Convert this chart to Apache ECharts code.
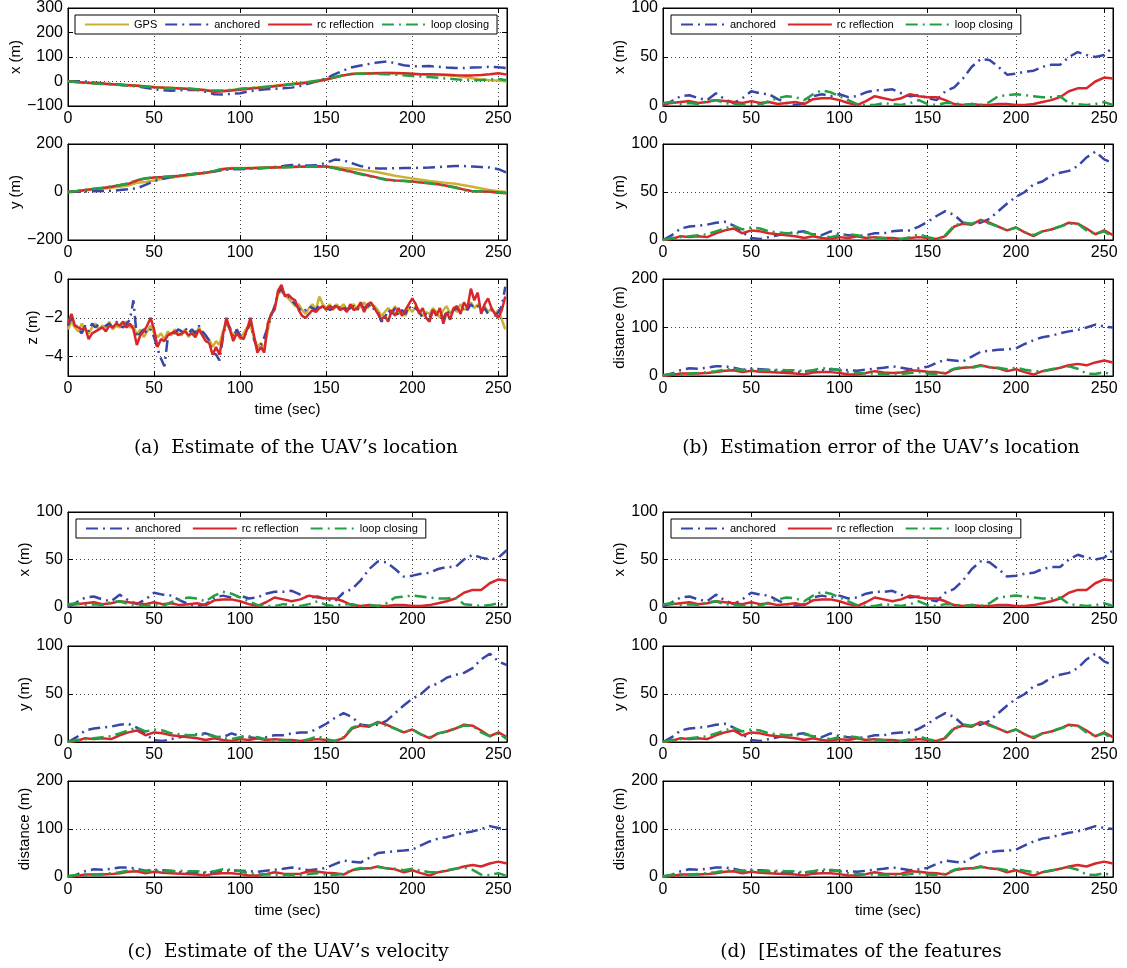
<!DOCTYPE html>
<html><head><meta charset="utf-8">
<script src="https://cdn.jsdelivr.net/npm/echarts@6/dist/echarts.min.js"></script>
<style>html,body{margin:0;padding:0;background:#fff}#c{width:1127px;height:968px}</style>
</head><body><div id="c"></div>
<script>
// ---------- DATA ----------
const T5 = [0,5,10,15,20,25,30,35,40,45,50,55,60,65,70,75,80,85,90,95,100,105,110,115,120,125,130,135,140,145,150,155,160,165,170,175,180,185,190,195,200,205,210,215,220,225,230,235,240,245,250,255];
const T2 = []; for (let t = 0; t <= 254; t += 2) T2.push(t);
const xTicks = [0,50,100,150,200,250];

// (a) location estimates
const posX_gps      = [0,-2,-4,-6,-8,-10,-12,-14,-16,-19,-22,-24,-26,-28,-30,-32,-35,-39,-39,-35,-31,-28,-24,-20,-17,-13,-9,-5,-1,4,10,17,25,32,33,34,35,35,34,33,31,29,28,27,25,23,18,13,8,5,4,0];
const posX_anchored = [0,1,0,-4,-7,-10,-13,-16,-20,-26,-31,-36,-38,-36,-34,-35,-42,-52,-53,-50,-48,-40,-35,-32,-30,-28,-25,-18,-8,2,12,30,45,58,65,72,78,82,75,66,62,62,63,60,57,55,55,57,58,60,58,55];
const posX_rc       = [0,-2,-5,-7,-9,-11,-13,-15,-17,-20,-23,-25,-27,-29,-31,-33,-36,-42,-40,-37,-34,-30,-27,-23,-19,-15,-11,-8,-4,1,8,16,25,31,32,33,34,35,35,34,32,30,30,29,28,26,25,25,27,30,34,28];
const posX_loop     = [0,-2,-5,-8,-10,-12,-14,-16,-18,-21,-24,-27,-29,-30,-29,-32,-35,-37,-37,-34,-30,-27,-25,-22,-19,-15,-11,-7,-2,3,10,18,26,31,32,32,31,30,28,25,22,20,18,15,12,9,6,5,6,8,10,5];

const posY_gps      = [0,3,7,10,14,18,22,27,38,42,48,55,60,65,70,75,80,88,97,100,100,100,101,102,103,104,105,105,106,106,105,104,100,97,93,88,82,75,68,62,56,51,46,42,38,34,28,22,15,8,3,0];
const posY_anchored = [0,1,2,3,4,5,8,12,15,30,45,55,62,68,73,77,80,85,92,95,95,96,98,100,104,108,113,112,110,112,122,135,132,120,108,100,98,98,99,100,100,101,102,104,106,108,108,106,104,102,95,80];
const posY_rc       = [0,3,8,13,17,22,28,34,48,56,60,62,65,68,72,76,80,86,95,98,98,99,100,101,102,103,104,105,106,107,106,100,92,84,76,68,60,52,48,47,44,40,36,32,26,20,10,3,2,1,-3,-5];
const posY_loop     = [0,4,9,14,18,23,29,36,50,57,61,63,66,69,73,77,81,88,97,99,98,99,100,101,102,103,104,105,106,107,105,99,90,82,74,66,58,50,46,46,43,40,36,31,25,18,8,3,3,2,-1,-4];

const posZ_gps = [-2.6,-2.2,-2.5,-2.7,-2.3,-2.6,-2.8,-2.5,-2.3,-2.6,-2.4,-2.5,-2.2,-2.6,-2.4,-2.5,-2.3,-2.2,-2.5,-2.4,-2.9,-2.6,-3.0,-2.7,-2.4,-2.8,-3.0,-2.8,-3.1,-2.7,-2.9,-2.6,-2.8,-2.9,-2.6,-3.0,-2.7,-2.9,-2.5,-2.8,-3.0,-3.1,-3.5,-3.2,-3.4,-2.7,-2.3,-2.6,-2.9,-2.7,-3.1,-2.8,-2.5,-2.4,-3.0,-3.5,-3.3,-3.6,-2.7,-1.8,-1.5,-0.8,-0.6,-0.8,-1.0,-1.2,-1.4,-1.3,-1.6,-1.8,-1.5,-1.3,-1.6,-0.9,-1.3,-1.5,-1.3,-1.6,-1.3,-1.5,-1.3,-1.6,-1.4,-1.3,-1.6,-1.4,-1.2,-1.5,-1.3,-1.4,-1.6,-1.9,-1.7,-1.5,-1.7,-1.4,-1.8,-1.6,-1.9,-1.5,-1.7,-1.4,-1.6,-1.9,-1.7,-1.8,-1.5,-1.7,-2.0,-1.6,-1.4,-1.8,-1.5,-1.7,-1.3,-1.6,-1.4,-1.2,-1.5,-1.3,-1.6,-1.4,-1.7,-1.5,-1.8,-1.6,-2.1,-2.6];
const posZ_anchored = [-2.4,-2.0,-2.3,-2.6,-2.8,-2.4,-2.7,-2.3,-2.5,-2.3,-2.6,-2.4,-2.3,-2.5,-2.2,-2.4,-2.5,-2.3,-2.1,-1.1,-3.0,-2.8,-2.6,-2.8,-2.6,-3.0,-3.6,-4.1,-4.5,-3.0,-2.7,-2.8,-2.6,-2.7,-2.5,-2.8,-2.6,-2.8,-2.4,-2.7,-2.9,-3.2,-3.8,-3.9,-4.2,-3.0,-2.2,-2.5,-3.0,-2.6,-2.9,-3.0,-2.7,-2.2,-3.1,-3.6,-3.4,-3.0,-2.5,-1.9,-1.4,-0.7,-0.5,-0.9,-0.9,-1.1,-1.3,-1.5,-1.7,-1.6,-1.4,-1.5,-1.6,-1.3,-1.5,-1.4,-1.6,-1.5,-1.3,-1.5,-1.4,-1.6,-1.5,-1.4,-1.6,-1.3,-1.5,-1.4,-1.3,-1.6,-1.7,-2.2,-2.0,-1.6,-1.8,-1.5,-1.9,-1.6,-1.8,-1.4,-1.6,-1.5,-1.7,-2.0,-1.8,-2.0,-1.6,-1.8,-1.6,-2.1,-1.6,-1.9,-1.6,-1.5,-1.7,-1.4,-1.6,-1.3,-1.5,-1.4,-1.7,-1.5,-1.8,-1.6,-1.9,-1.7,-1.4,-0.4];
const posZ_rc = [-2.3,-1.8,-2.4,-2.5,-2.6,-2.5,-3.1,-2.8,-2.7,-2.6,-2.5,-2.7,-2.4,-2.5,-2.3,-2.4,-2.2,-2.5,-2.3,-2.6,-3.4,-2.9,-2.7,-2.4,-2.0,-2.6,-3.5,-3.1,-3.2,-2.9,-2.8,-2.7,-2.9,-2.8,-2.7,-2.9,-2.8,-3.0,-2.6,-2.9,-3.2,-3.3,-3.9,-3.5,-3.9,-2.9,-2.0,-2.6,-3.2,-2.8,-3.0,-3.1,-2.6,-2.0,-2.9,-3.8,-3.5,-3.8,-2.3,-1.8,-1.6,-0.6,-0.3,-0.9,-0.8,-1.0,-1.1,-1.6,-1.9,-2.0,-1.8,-1.6,-1.7,-1.5,-1.4,-1.6,-1.4,-1.5,-1.4,-1.6,-1.5,-1.7,-1.3,-1.6,-1.5,-1.2,-1.7,-1.3,-1.2,-1.5,-1.8,-2.1,-1.9,-2.2,-1.6,-1.9,-1.5,-1.9,-1.6,-1.3,-1.0,-1.3,-1.8,-1.5,-2.0,-2.2,-1.6,-1.9,-1.5,-2.3,-1.7,-2.1,-1.5,-1.4,-1.8,-1.2,-1.5,-0.5,-1.1,-0.7,-1.8,-1.3,-1.0,-1.5,-1.8,-2.0,-1.6,-0.9];

// (b),(c),(d) estimation errors
const errX_anchored = [0,5,10,11,8,6,13,7,3,8,15,13,12,7,3,1,3,10,12,10,12,9,10,14,16,16,17,13,10,11,8,6,15,19,28,40,48,47,40,32,33,35,36,40,42,42,50,55,52,50,52,60];
const errX_rc       = [2,3,4,5,3,4,6,5,4,3,5,3,4,2,3,4,2,7,8,8,6,3,1,5,10,8,6,8,12,10,9,9,6,2,1,2,1,1,2,2,1,1,2,4,6,9,15,18,18,25,29,28];
const errX_loop     = [3,4,2,3,2,5,6,3,2,1,2,1,5,8,10,9,6,12,16,14,10,6,2,1,1,3,2,1,3,6,2,1,3,3,1,2,1,4,10,11,12,11,10,9,9,10,3,2,1,2,4,1];
const errY_anchored = [0,5,12,14,15,16,18,19,15,8,2,1,3,5,7,8,9,6,5,9,6,5,4,5,7,7,9,10,10,14,19,25,30,26,18,17,18,22,30,38,45,50,58,61,67,70,72,77,86,92,84,80];
const errY_rc       = [0,1,4,3,4,3,7,10,12,7,10,9,7,6,5,4,2,4,2,1,3,2,4,2,3,2,2,1,2,3,2,1,4,14,17,16,21,18,14,10,13,8,4,9,11,14,18,17,12,6,10,5];
const errY_loop     = [0,2,3,4,5,6,9,12,15,11,13,12,9,8,7,7,8,6,4,3,5,6,5,3,2,2,1,1,3,6,3,1,5,15,18,17,20,17,14,10,13,8,5,9,11,14,17,17,10,6,9,3];
const errD_anchored = [0,5,12,16,15,17,20,20,17,13,15,14,13,10,8,8,9,11,12,14,13,12,11,13,15,17,20,17,14,16,19,27,34,32,30,40,50,52,54,55,57,66,74,80,83,88,92,95,100,106,102,100];
const errD_rc       = [0,2,5,5,5,6,8,11,12,8,11,9,8,7,6,5,3,7,8,8,6,3,3,6,10,7,6,7,12,11,9,8,5,14,17,18,22,18,16,10,14,8,3,10,13,17,22,25,22,28,32,28];
const errD_loop     = [2,4,4,5,6,8,10,13,15,12,13,12,12,13,12,12,10,12,16,15,12,8,6,5,5,4,4,4,6,8,5,4,7,15,19,17,21,18,17,14,17,13,10,10,14,17,20,15,5,4,8,2];

const captions = ["(a)  Estimate of the UAV\u2019s location","(b)  Estimation error of the UAV\u2019s location","(c)  Estimate of the UAV\u2019s velocity","(d)  [Estimates of the features"];

// ---------- STYLE / LAYOUT ----------
const FONT = '"Liberation Sans", Arial, sans-serif';
const STY = {
  'GPS':           {color:'#cbb134', type:'solid'},
  'anchored':      {color:'#3846a8', type:[12,5,2,5]},
  'rc reflection': {color:'#d8262b', type:'solid'},
  'loop closing':  {color:'#23a045', type:[12,5,2,5]}
};
const zip = (t, v) => v.map((y, i) => [t[i], y]);
const fmt = v => (v < 0 ? '\u2212' + Math.abs(v) : String(v));

const grids = [], xAxes = [], yAxes = [], series = [], legends = [], graphics = [];

function addPlot(box, ycfg, lines, opt) {
  const gi = grids.length;
  grids.push({left:box.l, top:box.t, width:box.w, height:box.h, show:true, borderColor:'#000', borderWidth:1, backgroundColor:'#fff', containLabel:false, outerBoundsMode:'none'});
  const xi = xAxes.length, yi = yAxes.length;
  const dotted = {show:true, lineStyle:{color:'#444', type:[1,3], width:1}};
  xAxes.push({gridIndex:gi, type:'value', min:0, max:255, interval:50, position:'bottom',
    axisLine:{show:true, onZero:false, lineStyle:{color:'#000', width:1}},
    axisTick:{show:true, inside:true, length:5, lineStyle:{color:'#000'}, customValues:xTicks},
    axisLabel:{color:'#000', fontSize:16, fontFamily:FONT, margin:5, customValues:xTicks, formatter:v=>String(v)},
    splitLine:dotted,
    name: opt.xname || '', nameLocation:'middle', nameGap:26,
    nameTextStyle:{color:'#000', fontSize:15, fontFamily:FONT}});
  xAxes.push({gridIndex:gi, type:'value', min:0, max:255, interval:50, position:'top',
    axisLine:{show:true, onZero:false, lineStyle:{color:'#000', width:1}},
    axisTick:{show:true, inside:true, length:5, lineStyle:{color:'#000'}, customValues:xTicks},
    axisLabel:{show:false}, splitLine:{show:false}});
  const ysplit = ycfg.grid ? {show:false} : dotted;
  yAxes.push({gridIndex:gi, type:'value', min:ycfg.min, max:ycfg.max, interval:ycfg.interval, position:'left',
    axisLine:{show:true, onZero:false, lineStyle:{color:'#000', width:1}},
    axisTick:{show:true, inside:true, length:5, lineStyle:{color:'#000'}, customValues:ycfg.ticks},
    axisLabel:{color:'#000', fontSize:16, fontFamily:FONT, margin:5, customValues:ycfg.ticks, formatter:fmt},
    splitLine:ysplit,
    name:ycfg.name, nameLocation:'middle', nameRotate:90, nameGap:ycfg.gap,
    nameTextStyle:{color:'#000', fontSize:15, fontFamily:FONT}});
  yAxes.push({gridIndex:gi, type:'value', min:ycfg.min, max:ycfg.max, interval:ycfg.interval, position:'right',
    axisLine:{show:true, onZero:false, lineStyle:{color:'#000', width:1}},
    axisTick:{show:true, inside:true, length:5, lineStyle:{color:'#000'}, customValues:ycfg.ticks},
    axisLabel:{show:false}, splitLine:{show:false}});
  lines.forEach((ln, k) => {
    const s = STY[ln.name];
    const ser = {type:'line', name:ln.name, xAxisIndex:xi, yAxisIndex:yi, data:ln.data, symbol:'none', showSymbol:false,
      lineStyle:{color:s.color, width:2.5, type:s.type}, itemStyle:{color:s.color}, animation:false, z:2+k};
    if (k === 0 && ycfg.grid) {
      ser.markLine = {silent:true, symbol:'none', animation:false, label:{show:false},
        lineStyle:{color:'#444', type:[1,3], width:1}, data:ycfg.grid.map(v=>({yAxis:v}))};
    }
    series.push(ser);
  });
  if (opt.legend) {
    legends.push({left:opt.legend.l, top:opt.legend.t, orient:'horizontal', selectedMode:false,
      data:lines.map(l=>l.name), itemWidth:44, itemHeight:10, itemGap:opt.legend.gap,
      itemStyle:{opacity:0, borderWidth:0},
      padding:[4,8,4,9], borderColor:'#000', borderWidth:1, backgroundColor:'#fff', borderRadius:0,
      textStyle:{color:'#000', fontSize:11, fontFamily:FONT}});
  }
}

const rowsTop = [[8,144,279],[512,646,781]];
const rowsH   = [[98,96,97],[95,96,96]];

// panel (a)
addPlot({l:68, t:8, w:439, h:98}, {min:-100, max:300, interval:100, name:'x (m)', gap:44},
  [{name:'GPS', data:zip(T5,posX_gps)}, {name:'anchored', data:zip(T5,posX_anchored)}, {name:'rc reflection', data:zip(T5,posX_rc)}, {name:'loop closing', data:zip(T5,posX_loop)}],
  {legend:{l:75, t:15, gap:7}});
addPlot({l:68, t:144, w:439, h:96}, {min:-200, max:200, interval:200, name:'y (m)', gap:44},
  [{name:'GPS', data:zip(T5,posY_gps)}, {name:'anchored', data:zip(T5,posY_anchored)}, {name:'rc reflection', data:zip(T5,posY_rc)}, {name:'loop closing', data:zip(T5,posY_loop)}], {});
addPlot({l:68, t:279, w:439, h:97}, {min:-5, max:0, interval:1, ticks:[-4,-2,0], grid:[-2,-4], name:'z (m)', gap:27},
  [{name:'GPS', data:zip(T2,posZ_gps)}, {name:'anchored', data:zip(T2,posZ_anchored)}, {name:'rc reflection', data:zip(T2,posZ_rc)}], {xname:'time (sec)'});

// panels (b), (c), (d)
[[663,0],[68,1],[663,1]].forEach(([left, r]) => {
  const w = left === 68 ? 439 : 450;
  addPlot({l:left, t:rowsTop[r][0], w:w, h:rowsH[r][0]}, {min:0, max:100, interval:50, name:'x (m)', gap:36},
    [{name:'anchored', data:zip(T5,errX_anchored)}, {name:'rc reflection', data:zip(T5,errX_rc)}, {name:'loop closing', data:zip(T5,errX_loop)}],
    {legend:{l:left+8, t:rowsTop[r][0]+7, gap:11}});
  addPlot({l:left, t:rowsTop[r][1], w:w, h:rowsH[r][1]}, {min:0, max:100, interval:50, name:'y (m)', gap:36},
    [{name:'anchored', data:zip(T5,errY_anchored)}, {name:'rc reflection', data:zip(T5,errY_rc)}, {name:'loop closing', data:zip(T5,errY_loop)}], {});
  addPlot({l:left, t:rowsTop[r][2], w:w, h:rowsH[r][2]}, {min:0, max:200, interval:100, name:'distance (m)', gap:36},
    [{name:'anchored', data:zip(T5,errD_anchored)}, {name:'rc reflection', data:zip(T5,errD_rc)}, {name:'loop closing', data:zip(T5,errD_loop)}], {xname:'time (sec)'});
});

const capPos = [[296,448],[881,448],[288,952],[861,952]];
captions.forEach((c, i) => {
  graphics.push({type:'text', x:capPos[i][0], y:capPos[i][1],
    style:{text:c, fill:'#000', font:'18.5px "DejaVu Serif", serif', textAlign:'center', textVerticalAlign:'middle'}});
});

const chart = echarts.init(document.getElementById('c'), null, {renderer:'canvas'});
chart.setOption({
  animation:false, backgroundColor:'#fff',
  grid:grids, xAxis:xAxes, yAxis:yAxes, series:series, legend:legends, graphic:graphics
});
</script></body></html>
